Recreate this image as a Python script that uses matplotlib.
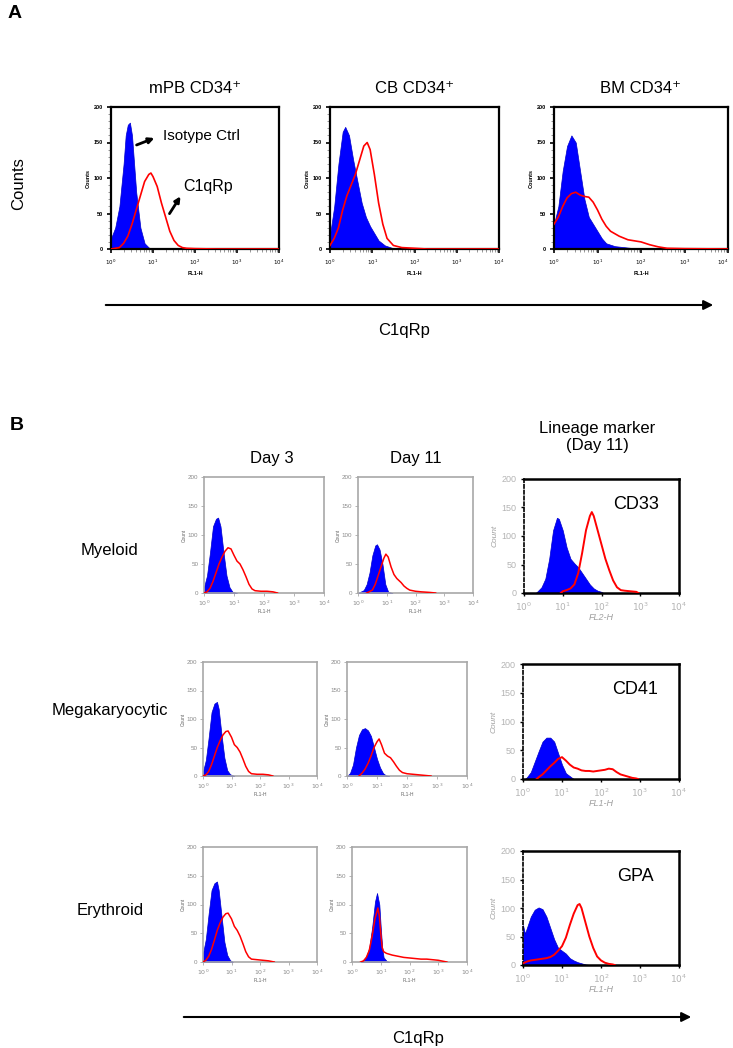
import matplotlib.pyplot as plt
import numpy as np

plt.rcParams['font.family'] = ['Liberation Sans', 'DejaVu Sans']

# ---- data: histogram outlines, x in decades (log10 of channel), y in counts ----
# panel A
mpb_iso_x = [0, 0.1, 0.2, 0.3, 0.35, 0.4, 0.45, 0.5, 0.55, 0.6, 0.7, 0.8, 0.9, 1.0]
mpb_iso_y = [15, 30, 60, 120, 160, 175, 178, 160, 120, 80, 30, 8, 2, 0]
mpb_c1q_x = [0, 0.2, 0.3, 0.4, 0.5, 0.6, 0.7, 0.8, 0.9, 0.95, 1.0, 1.1, 1.2, 1.3, 1.4, 1.5, 1.6, 1.7, 1.8, 2.0, 2.5, 4.0]
mpb_c1q_y = [0, 2, 8, 18, 35, 55, 75, 95, 105, 107, 102, 88, 65, 45, 25, 12, 5, 2, 1, 0.5, 0, 0]

cb_iso_x = [0, 0.1, 0.2, 0.3, 0.36, 0.45, 0.55, 0.65, 0.75, 0.85, 0.95, 1.05, 1.15, 1.3, 1.5, 1.7]
cb_iso_y = [20, 60, 120, 165, 172, 160, 125, 95, 65, 45, 32, 22, 12, 5, 1, 0]
cb_c1q_x = [0, 0.1, 0.2, 0.3, 0.4, 0.5, 0.6, 0.7, 0.8, 0.88, 0.95, 1.05, 1.15, 1.25, 1.35, 1.5, 1.7, 2.0, 2.3, 4.0]
cb_c1q_y = [5, 15, 30, 55, 75, 90, 105, 125, 145, 150, 140, 105, 65, 35, 15, 5, 2, 1, 0, 0]

bm_iso_x = [0, 0.1, 0.2, 0.3, 0.4, 0.5, 0.6, 0.7, 0.8, 0.9, 1.0, 1.1, 1.2, 1.4, 1.7, 2.0]
bm_iso_y = [35, 60, 110, 145, 160, 150, 110, 70, 45, 35, 25, 15, 8, 4, 2, 0]
bm_c1q_x = [0, 0.1, 0.2, 0.3, 0.4, 0.5, 0.6, 0.7, 0.8, 0.9, 1.0, 1.1, 1.2, 1.3, 1.5, 1.7, 2.0, 2.2, 2.4, 2.6, 3.0, 4.0]
bm_c1q_y = [35, 45, 60, 72, 78, 80, 76, 74, 73, 66, 55, 42, 32, 25, 18, 13, 10, 6, 3, 1, 0.5, 0]

# panel B, row 1 (myeloid)
my_d3_iso_x = [0, 0.1, 0.2, 0.3, 0.4, 0.47, 0.55, 0.65, 0.75, 0.85, 0.95, 1.1]
my_d3_iso_y = [10, 30, 70, 115, 128, 130, 115, 70, 30, 10, 2, 0]
my_d3_c1q_x = [0, 0.1, 0.2, 0.3, 0.4, 0.5, 0.6, 0.7, 0.8, 0.9, 1.0, 1.1, 1.2, 1.3, 1.4, 1.5, 1.6, 1.7, 1.9, 2.1, 2.3, 2.45]
my_d3_c1q_y = [0, 2, 8, 20, 35, 50, 62, 72, 78, 76, 65, 55, 50, 40, 28, 15, 7, 4, 3, 3, 2, 0]
my_d11_iso_x = [0, 0.2, 0.3, 0.4, 0.5, 0.6, 0.66, 0.75, 0.85, 0.95, 1.05, 1.2]
my_d11_iso_y = [0, 5, 15, 35, 65, 82, 84, 75, 50, 15, 2, 0]
my_d11_c1q_x = [0.3, 0.5, 0.6, 0.7, 0.8, 0.9, 0.97, 1.05, 1.15, 1.25, 1.35, 1.5, 1.6, 1.7, 1.8, 2.0, 2.2, 2.5, 2.7]
my_d11_c1q_y = [0, 5, 15, 30, 45, 60, 67, 62, 45, 32, 25, 18, 12, 8, 5, 3, 2, 1, 0]
cd33_iso_x = [0.3, 0.35, 0.45, 0.55, 0.65, 0.75, 0.85, 0.9, 1.0, 1.1, 1.2, 1.3, 1.4, 1.5, 1.6, 1.7, 1.8, 1.9, 2.0, 2.05]
cd33_iso_y = [0, 3, 10, 25, 60, 110, 132, 130, 110, 80, 60, 52, 45, 35, 25, 15, 8, 4, 2, 0]
cd33_mk_x = [0.95, 1.0, 1.1, 1.2, 1.3, 1.4, 1.5, 1.6, 1.7, 1.75, 1.8, 1.9, 2.0, 2.1, 2.2, 2.3, 2.4, 2.5, 2.6, 2.75, 2.9, 2.95]
cd33_mk_y = [0, 3, 5, 8, 15, 35, 70, 110, 135, 142, 135, 110, 85, 60, 40, 22, 10, 5, 4, 3, 2, 0]

# panel B, row 2 (megakaryocytic)
mk_d3_iso_x = [0, 0.1, 0.2, 0.3, 0.4, 0.49, 0.55, 0.65, 0.75, 0.85, 0.95, 1.1]
mk_d3_iso_y = [8, 28, 68, 112, 127, 130, 118, 72, 32, 10, 3, 0]
mk_d3_c1q_x = [0, 0.1, 0.2, 0.3, 0.4, 0.5, 0.6, 0.7, 0.8, 0.88, 1.0, 1.1, 1.2, 1.3, 1.4, 1.5, 1.6, 1.7, 1.9, 2.1, 2.3, 2.45]
mk_d3_c1q_y = [0, 2, 8, 20, 35, 50, 62, 72, 78, 79, 68, 55, 50, 42, 30, 17, 8, 4, 3, 3, 2, 0]
mk_d11_iso_x = [0, 0.1, 0.2, 0.3, 0.4, 0.5, 0.6, 0.7, 0.8, 0.9, 1.0, 1.1, 1.2, 1.3, 1.4]
mk_d11_iso_y = [0, 5, 20, 50, 72, 82, 84, 80, 70, 50, 30, 15, 5, 1, 0]
mk_d11_c1q_x = [0.4, 0.5, 0.6, 0.7, 0.8, 0.9, 1.0, 1.07, 1.15, 1.25, 1.35, 1.45, 1.55, 1.65, 1.75, 1.85, 2.0, 2.2, 2.4, 2.6, 2.8]
mk_d11_c1q_y = [0, 5, 12, 22, 35, 50, 60, 65, 55, 40, 35, 32, 25, 17, 10, 6, 4, 3, 2, 1, 0]
cd41_iso_x = [0.05, 0.1, 0.2, 0.3, 0.4, 0.5, 0.6, 0.7, 0.8, 0.9, 1.0, 1.1, 1.2, 1.3]
cd41_iso_y = [0, 3, 12, 30, 48, 65, 72, 72, 65, 45, 25, 10, 5, 0]
cd41_mk_x = [0.35, 0.4, 0.5, 0.6, 0.7, 0.8, 0.9, 1.0, 1.1, 1.2, 1.3, 1.4, 1.5, 1.6, 1.7, 1.8, 1.9, 2.0, 2.1, 2.2, 2.3, 2.4, 2.5, 2.6, 2.7, 2.8, 2.9, 2.95]
cd41_mk_y = [0, 3, 8, 15, 22, 28, 35, 38, 32, 25, 20, 18, 15, 14, 14, 13, 14, 15, 16, 18, 17, 12, 8, 6, 4, 2, 1, 0]

# panel B, row 3 (erythroid)
er_d3_iso_x = [0, 0.1, 0.2, 0.3, 0.4, 0.49, 0.55, 0.65, 0.75, 0.85, 0.95, 1.05]
er_d3_iso_y = [15, 40, 85, 125, 137, 140, 125, 80, 35, 12, 3, 0]
er_d3_c1q_x = [0, 0.1, 0.2, 0.3, 0.4, 0.5, 0.6, 0.7, 0.8, 0.88, 1.0, 1.1, 1.2, 1.3, 1.4, 1.5, 1.6, 1.7, 1.9, 2.1, 2.3, 2.5]
er_d3_c1q_y = [0, 3, 10, 22, 38, 55, 68, 78, 84, 85, 75, 62, 55, 45, 32, 18, 9, 5, 4, 3, 2, 0]
er_d11_iso_x = [0.3, 0.4, 0.5, 0.6, 0.7, 0.8, 0.87, 0.95, 1.0, 1.05, 1.1, 1.2, 1.3]
er_d11_iso_y = [0, 3, 10, 25, 60, 105, 120, 100, 60, 25, 8, 2, 0]
er_d11_c1q_x = [0.3, 0.4, 0.5, 0.6, 0.7, 0.8, 0.9, 0.95, 1.0, 1.05, 1.1, 1.2, 1.4, 1.6, 1.8, 2.0, 2.2, 2.4, 2.6, 2.8, 3.0, 3.2, 3.3]
er_d11_c1q_y = [0, 2, 8, 20, 45, 75, 94, 80, 50, 25, 18, 15, 12, 10, 8, 7, 6, 5, 5, 4, 3, 1, 0]
gpa_iso_x = [0, 0.05, 0.1, 0.2, 0.3, 0.4, 0.5, 0.6, 0.7, 0.8, 0.9, 1.0, 1.1, 1.2, 1.3, 1.4, 1.5, 1.6, 1.7]
gpa_iso_y = [70, 55, 65, 85, 97, 101, 98, 85, 65, 45, 30, 25, 20, 12, 8, 5, 3, 1, 0]
gpa_mk_x = [0, 0.1, 0.2, 0.3, 0.4, 0.5, 0.6, 0.7, 0.8, 0.9, 1.0, 1.1, 1.2, 1.3, 1.4, 1.45, 1.5, 1.6, 1.7, 1.8, 1.9, 2.0, 2.1, 2.2, 2.3, 2.35]
gpa_mk_y = [3, 6, 8, 9, 10, 11, 12, 14, 18, 25, 33, 48, 70, 90, 105, 107, 100, 75, 50, 30, 15, 8, 4, 2, 1, 0]

titles_a = ['mPB CD34\u207a', 'CB CD34\u207a', 'BM CD34\u207a']
rows_b = ['Myeloid', 'Megakaryocytic', 'Erythroid']
markers_b = ['CD33', 'CD41', 'GPA']
marker_xlabels = ['FL2-H', 'FL1-H', 'FL1-H']
yticks = [0, 50, 100, 150, 200]
decades = [1, 10, 100, 1000, 10000]
dec_labels = ['$10^{0}$', '$10^{1}$', '$10^{2}$', '$10^{3}$', '$10^{4}$']

W, H = 733, 1048
fig = plt.figure(figsize=(W / 100, H / 100), dpi=100)


def box(l, t, r, b):
    return fig.add_axes([l / W, 1 - b / H, (r - l) / W, (b - t) / H])


def draw(ax, bx, by, rx, ry, lw=1.1):
    ax.fill_between(10 ** np.array(bx, float), by, color='#0000ff', lw=0.5, edgecolor='#0000cc', zorder=2)
    ax.plot(10 ** np.array(rx, float), ry, color='#ff0000', lw=lw, zorder=3)
    ax.set_xscale('log')
    ax.set_xlim(1, 1e4)
    ax.set_ylim(0, 200)
    ax.set_xticks(decades)
    ax.set_yticks(yticks)


# ---------------- panel A ----------------
a_boxes = [(111, 107, 279, 249), (330, 107, 499, 249), (554, 107, 728, 249)]
a_data = [(mpb_iso_x, mpb_iso_y, mpb_c1q_x, mpb_c1q_y),
          (cb_iso_x, cb_iso_y, cb_c1q_x, cb_c1q_y),
          (bm_iso_x, bm_iso_y, bm_c1q_x, bm_c1q_y)]
for i, (bx_, d, t) in enumerate(zip(a_boxes, a_data, titles_a)):
    ax = box(*bx_)
    draw(ax, *d, lw=1.2)
    for s in ax.spines.values():
        s.set_linewidth(1.6)
    ax.set_yticks(np.arange(0, 201, 10), minor=True)
    ax.tick_params(which='major', length=3, width=1.2, labelsize=4, pad=3)
    ax.tick_params(which='minor', length=2, width=0.6, color='#888888')
    ax.set_xticklabels(dec_labels, fontweight='bold')
    ax.set_yticklabels([str(v) for v in yticks], fontweight='bold')
    if i == 2:
        ax.get_xticklabels()[-1].set_horizontalalignment('right')
    ax.set_xlabel('FL1-H', fontsize=4, fontweight='bold', labelpad=3)
    ax.set_ylabel('Counts', fontsize=4, fontweight='bold', labelpad=2)
    ax.set_title(t, fontsize=12, pad=10)

# ---------------- panel B ----------------
day_boxes = [[(204, 477, 324, 593), (358, 477, 473, 593)],
             [(203, 662, 317, 776), (347, 662, 467, 776)],
             [(203, 847, 317, 962), (352, 847, 467, 962)]]
day_data = [[(my_d3_iso_x, my_d3_iso_y, my_d3_c1q_x, my_d3_c1q_y),
             (my_d11_iso_x, my_d11_iso_y, my_d11_c1q_x, my_d11_c1q_y)],
            [(mk_d3_iso_x, mk_d3_iso_y, mk_d3_c1q_x, mk_d3_c1q_y),
             (mk_d11_iso_x, mk_d11_iso_y, mk_d11_c1q_x, mk_d11_c1q_y)],
            [(er_d3_iso_x, er_d3_iso_y, er_d3_c1q_x, er_d3_c1q_y),
             (er_d11_iso_x, er_d11_iso_y, er_d11_c1q_x, er_d11_c1q_y)]]
lin_boxes = [(524, 479, 679, 593), (523, 664, 679, 779), (523, 851, 679, 965)]
lin_data = [(cd33_iso_x, cd33_iso_y, cd33_mk_x, cd33_mk_y),
            (cd41_iso_x, cd41_iso_y, cd41_mk_x, cd41_mk_y),
            (gpa_iso_x, gpa_iso_y, gpa_mk_x, gpa_mk_y)]

for r in range(3):
    for c in range(2):
        ax = box(*day_boxes[r][c])
        draw(ax, *day_data[r][c])
        for s in ax.spines.values():
            s.set_linewidth(1.2)
            s.set_color('#a8a8a8')
        ax.xaxis.set_minor_locator(plt.NullLocator())
        ax.tick_params(length=2, width=0.6, color='#a8a8a8', labelsize=4.5,
                       labelcolor='#8a8a8a', pad=2)
        ax.set_xticklabels(dec_labels)
        ax.set_xlabel('FL1-H', fontsize=3.5, color='#666666', labelpad=1)
        ax.set_ylabel('Count', fontsize=3.5, color='#666666', labelpad=1)

    ax = box(*lin_boxes[r])
    draw(ax, *lin_data[r], lw=1.4)
    for k in ['top', 'right', 'bottom']:
        ax.spines[k].set_linewidth(1.8)
    ax.spines['left'].set_linewidth(1.2)
    ax.spines['left'].set_linestyle((0, (2, 1.5)))
    ax.xaxis.set_minor_locator(plt.NullLocator())
    ax.tick_params(length=2.5, width=1.0, labelsize=6.5, labelcolor='#b4b4b4', pad=3)
    ax.set_xticklabels(dec_labels)
    ax.set_xlabel(marker_xlabels[r], fontsize=6.5, color='#a0a0a0', style='italic', labelpad=0)
    ax.set_ylabel('Count', fontsize=6, color='#a0a0a0', style='italic', labelpad=2)
    ax.text(0.72, 0.78, markers_b[r], transform=ax.transAxes, fontsize=13,
            ha='center', va='center')

# ---------------- overlay: labels and arrows, in pixel coordinates ----------------
ov = fig.add_axes([0, 0, 1, 1])
ov.set_xlim(0, W)
ov.set_ylim(H, 0)
ov.axis('off')
ov.patch.set_visible(False)

ov.text(8, 14, 'A', fontsize=14, fontweight='bold', va='center')
ov.text(10, 425, 'B', fontsize=14, fontweight='bold', va='center')
ov.text(19, 184, 'Counts', fontsize=12, rotation=90, ha='center', va='center')

ov.annotate('', xy=(157, 137), xytext=(134, 146),
            arrowprops=dict(arrowstyle='-|>', color='black', lw=2, mutation_scale=8))
ov.text(163, 136, 'Isotype Ctrl', fontsize=11, va='center')
ov.annotate('', xy=(182, 194), xytext=(168, 216),
            arrowprops=dict(arrowstyle='-|>', color='black', lw=2, mutation_scale=8))
ov.text(183, 187, 'C1qRp', fontsize=11.5, va='center')

ov.annotate('', xy=(716, 305), xytext=(103, 305),
            arrowprops=dict(arrowstyle='-|>', color='black', lw=1.5, mutation_scale=14))
ov.text(404, 331, 'C1qRp', fontsize=12, ha='center', va='center')

ov.text(272, 459, 'Day 3', fontsize=12, ha='center', va='center')
ov.text(416, 459, 'Day 11', fontsize=12, ha='center', va='center')
ov.text(597, 437, 'Lineage marker\n(Day 11)', fontsize=12, ha='center', va='center',
        linespacing=1.2)
row_y = [551, 710, 910]
for lab, yy in zip(rows_b, row_y):
    ov.text(110, yy, lab, fontsize=12, ha='center', va='center')

ov.annotate('', xy=(694, 1017), xytext=(181, 1017),
            arrowprops=dict(arrowstyle='-|>', color='black', lw=1.5, mutation_scale=14))
ov.text(418, 1038, 'C1qRp', fontsize=12, ha='center', va='center')

fig.savefig('out.png', dpi=100)
